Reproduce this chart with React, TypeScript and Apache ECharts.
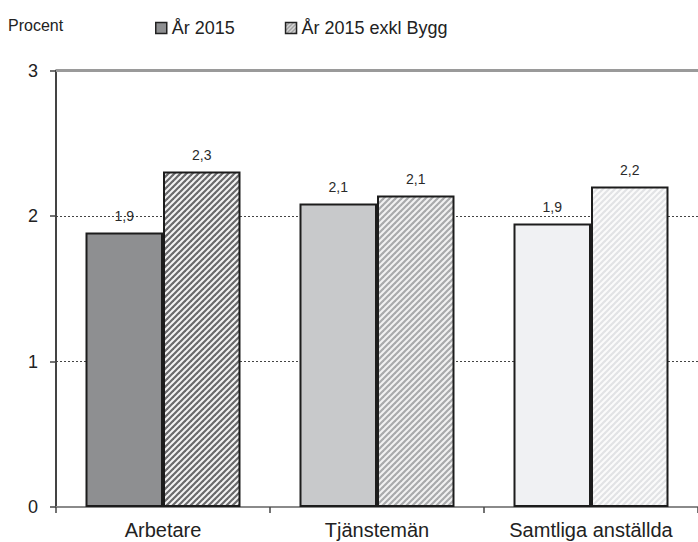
import React, { useEffect, useRef } from "react";
import * as echarts from "echarts";

const categories = ["Arbetare", "Tjänstemän", "Samtliga anställda"];
const seriesNames = ["År 2015", "År 2015 exkl Bygg"];
const values2015 = [1.887, 2.086, 1.949];
const valuesExBygg = [2.306, 2.141, 2.203];
const yTicks = [0, 1, 2, 3];

const solidColors = ["#8e8f91", "#c8c9cb", "#f0f1f3"];
const stripeFg = ["#6a6a6c", "#a9aaac", "#e2e3e5"];
const stripeBg = ["#f4f4f4", "#f2f2f2", "#fbfbfb"];

function makeStripes(fg: string, bg: string, size = 6, lw = 2.2) {
  const c = document.createElement("canvas");
  c.width = size;
  c.height = size;
  const ctx = c.getContext("2d")!;
  ctx.fillStyle = bg;
  ctx.fillRect(0, 0, size, size);
  ctx.strokeStyle = fg;
  ctx.lineWidth = lw;
  ctx.lineCap = "square";
  const lines = [
    [0, size, size, 0],
    [-size, size, size, -size],
    [0, 2 * size, 2 * size, 0],
  ];
  for (const [x1, y1, x2, y2] of lines) {
    ctx.beginPath();
    ctx.moveTo(x1, y1);
    ctx.lineTo(x2, y2);
    ctx.stroke();
  }
  return c;
}

const FONT = "'Liberation Sans', Arial, sans-serif";

export default function App() {
  const ref = useRef<HTMLDivElement>(null);
  useEffect(() => {
    if (!ref.current) return;
    const chart = echarts.init(ref.current, undefined, { renderer: "svg" });
    const border = { borderColor: "#1c1c1c", borderWidth: 2 };
    const fmt = (p: any) => Number(p.value).toFixed(1).replace(".", ",");
    const label = {
      show: true,
      position: "top" as const,
      distance: 9,
      fontSize: 14,
      color: "#2a2a2a",
      fontFamily: FONT,
      formatter: fmt,
    };
    const patterns = categories.map((_, i) => ({
      image: makeStripes(stripeFg[i], stripeBg[i]),
      repeat: "repeat",
    }));
    const legendPattern = { image: makeStripes("#8a8a8a", "#f0f0f0", 4, 1.5), repeat: "repeat" };

    chart.setOption({
      animation: false,
      textStyle: { fontFamily: FONT },
      title: {
        text: "Procent",
        left: 8,
        top: 16,
        padding: 0,
        textStyle: { fontSize: 16, fontWeight: "normal", color: "#222", fontFamily: FONT, lineHeight: 18 },
      },
      legend: {
        left: 155,
        top: 19,
        padding: 0,
        itemWidth: 11,
        itemHeight: 11,
        itemGap: 50,
        itemTextGap: 3,
        icon: "rect",
        textStyle: { fontSize: 18, color: "#222", fontFamily: FONT, lineHeight: 18 },
        data: [
          { name: seriesNames[0], itemStyle: { color: "#8e8f91", borderColor: "#222", borderWidth: 1.5 } },
          { name: seriesNames[1], itemStyle: { color: legendPattern, borderColor: "#222", borderWidth: 1.5 } },
        ],
      },
      grid: { left: 56, top: 70.5, width: 649, height: 436.5, containLabel: false },
      xAxis: {
        type: "category",
        data: categories,
        axisLine: { show: true, lineStyle: { color: "#8a8a8a", width: 2 } },
        axisTick: { show: true, length: 6, lineStyle: { color: "#444", width: 1.5 } },
        axisLabel: { fontSize: 20, color: "#222", margin: 13, fontFamily: FONT },
      },
      yAxis: {
        type: "value",
        min: yTicks[0],
        max: yTicks[yTicks.length - 1],
        interval: 1,
        axisLine: { show: true, lineStyle: { color: "#444", width: 2 } },
        axisTick: { show: true, length: 6, lineStyle: { color: "#444", width: 1.5 } },
        axisLabel: { fontSize: 18, color: "#222", margin: 18, fontFamily: FONT },
        splitLine: { show: true, showMaxLine: false, lineStyle: { color: "#444", type: [2, 2], width: 1 } },
      },
      series: [
        {
          name: seriesNames[0],
          type: "bar",
          barWidth: 77.5,
          barGap: "0%",
          itemStyle: { color: "#8e8f91", ...border },
          label,
          data: values2015.map((v, i) => ({ value: v, itemStyle: { color: solidColors[i], ...border } })),
          markLine: {
            silent: true,
            symbol: "none",
            label: { show: false },
            lineStyle: { color: "#9a9a9a", type: "solid", width: 3 },
            data: [{ yAxis: yTicks[yTicks.length - 1] }],
          },
        },
        {
          name: seriesNames[1],
          type: "bar",
          barWidth: 77.5,
          barGap: "0%",
          itemStyle: { color: legendPattern, ...border },
          label,
          data: valuesExBygg.map((v, i) => ({ value: v, itemStyle: { color: patterns[i], ...border } })),
        },
      ],
    });
    return () => chart.dispose();
  }, []);
  return (
    <div
      ref={ref}
      style={{ position: "fixed", left: 0, top: 0, width: 698, height: 542, background: "#fff" }}
    />
  );
}
